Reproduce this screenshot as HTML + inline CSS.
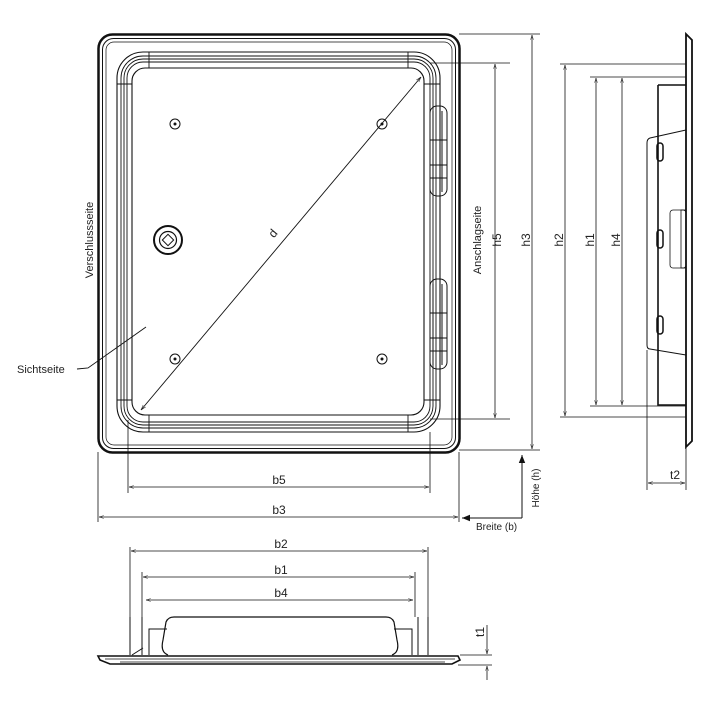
<!DOCTYPE html>
<html><head><meta charset="utf-8"><style>
html,body{margin:0;padding:0;background:#fff;width:728px;height:703px;overflow:hidden}
svg{display:block}
text{font-family:"Liberation Sans",sans-serif;fill:#222}
</style></head><body>
<svg width="728" height="703" viewBox="0 0 728 703" xmlns="http://www.w3.org/2000/svg">
<defs>
<marker id="a" viewBox="0 0 10 10" refX="10" refY="5" markerWidth="6" markerHeight="6" orient="auto-start-reverse"><path d="M0,2 L10,5 L0,8" fill="none" stroke="#222" stroke-width="1"/></marker>
<marker id="f" viewBox="0 0 10 10" refX="10" refY="5" markerWidth="8" markerHeight="8" orient="auto"><path d="M0,1 L10,5 L0,9 z" fill="#111"/></marker>
</defs>
<g fill="none" stroke="#111">
<rect x="98.5" y="34.5" width="361" height="418" rx="14" stroke-width="2.5"/>
<rect x="102.5" y="38.5" width="353" height="410" rx="11" stroke-width="1"/>
<rect x="106" y="42" width="346" height="403" rx="8" stroke-width="0.7"/>
<rect x="117" y="52" width="323" height="380" rx="26" stroke-width="1.1"/>
<rect x="121" y="56" width="315" height="372" rx="22" stroke-width="0.9"/>
<rect x="124" y="59" width="309" height="366" rx="19" stroke-width="0.9"/>
<rect x="127" y="62" width="303" height="360" rx="16" stroke-width="0.9"/>
<rect x="132" y="68" width="292" height="347" rx="13" stroke-width="1.1"/>
<path d="M149,52 V68 M408,52 V68 M149,415 V432 M408,415 V432 M117,84 H132 M117,400 H132 M424,84 H440 M424,400 H440" stroke-width="0.9"/>
<g stroke-width="1"><circle cx="175" cy="124" r="5"/><circle cx="382" cy="124" r="5"/><circle cx="175" cy="359" r="5"/><circle cx="382" cy="359" r="5"/></g>
<g fill="#111" stroke="none"><circle cx="175" cy="124" r="1.5"/><circle cx="382" cy="124" r="1.5"/><circle cx="175" cy="359" r="1.5"/><circle cx="382" cy="359" r="1.5"/></g>
<circle cx="168" cy="240" r="14" stroke-width="2"/>
<circle cx="168" cy="240" r="8.5" stroke-width="1.2"/>
<rect x="164" y="236" width="8" height="8" transform="rotate(45 168 240)" stroke-width="1"/>
<g stroke-width="1">
<rect x="430" y="106" width="17" height="90" rx="7"/><path d="M433,111 V192 M442,111 V192 M430,140 H447 M430,165 H447 M430,178 H447"/>
<rect x="430" y="279" width="17" height="90" rx="7"/><path d="M433,284 V365 M442,284 V365 M430,313 H447 M430,338 H447 M430,351 H447"/>
</g>
<path d="M141,410 L421,77" stroke-width="0.9" marker-start="url(#a)" marker-end="url(#a)"/>
<path d="M77,369 L88,368 L146,327" stroke-width="0.9"/>
<g stroke-width="0.8">
<path d="M430,63 H510 M430,419 H510 M459,34 H540 M459,450 H540"/>
<path d="M495,64 V418" marker-start="url(#a)" marker-end="url(#a)"/>
<path d="M532,35 V449" marker-start="url(#a)" marker-end="url(#a)"/>
<path d="M128,420 V493 M430,432 V493 M98,452 V522 M459,452 V522"/>
<path d="M129,487 H429" marker-start="url(#a)" marker-end="url(#a)"/>
<path d="M99,517 H458" marker-start="url(#a)" marker-end="url(#a)"/>
</g>
<path d="M522,518 V455" stroke-width="1" marker-end="url(#f)"/>
<path d="M522,518 H462" stroke-width="1" marker-end="url(#f)"/>
<path d="M686,34 L692,40 V441 L686,447 Z" stroke-width="1.8"/>
<path d="M658,85 H686 M658,85 V405 H686" stroke-width="1.6"/>
<path d="M686,130 L650,138 Q647,139 647,143 V345 Q647,349 650,349 L686,355" stroke-width="1"/>
<rect x="681" y="210" width="5" height="58" stroke-width="0.8"/>
<rect x="670" y="210" width="16" height="58" rx="3" stroke-width="0.8"/>
<rect x="657" y="143" width="6" height="18" rx="3" stroke-width="1.5"/>
<rect x="657" y="230" width="6" height="18" rx="3" stroke-width="1.5"/>
<rect x="657" y="316" width="6" height="18" rx="3" stroke-width="1.5"/>
<g stroke-width="0.8">
<path d="M560,64 H686 M560,417 H686 M590,77 H686 M590,406 H686"/>
<path d="M565,65 V416" marker-start="url(#a)" marker-end="url(#a)"/>
<path d="M596,78 V405" marker-start="url(#a)" marker-end="url(#a)"/>
<path d="M622,78 V405" marker-start="url(#a)" marker-end="url(#a)"/>
<path d="M647,350 V490 M686,447 V490"/>
<path d="M648,483 H685" marker-start="url(#a)" marker-end="url(#a)"/>
</g>
<path d="M98,656 H458 L460,660 L452,664 H110 L100,660 Z" stroke-width="1.6"/>
<path d="M105,659 H455 M120,662 H445" stroke-width="0.8"/>
<path d="M168,655 Q160,652 163,640 L166,622 Q168,617 174,617 H386 Q392,617 394,622 L397,640 Q400,652 392,655" stroke-width="1.2"/>
<path d="M149,655 V629 H167 M412,655 V629 H394 M142,655 V617 M418,655 V617 M130,655 V617 M428,655 V617" stroke-width="1"/>
<path d="M132,655 L143,648" stroke-width="1"/>
<g stroke-width="0.8">
<path d="M130,547 V617 M428,547 V617 M142,572 V617 M415,572 V617"/>
<path d="M131,551 H427" marker-start="url(#a)" marker-end="url(#a)"/>
<path d="M143,577 H414" marker-start="url(#a)" marker-end="url(#a)"/>
<path d="M146,600 H413" marker-start="url(#a)" marker-end="url(#a)"/>
<path d="M460,655 H492 M458,665 H492"/>
<path d="M487,625 V654" marker-end="url(#a)"/>
<path d="M487,680 V666" marker-end="url(#a)"/>
</g>
</g>
<g font-size="12">
<text x="279" y="484" text-anchor="middle">b5</text>
<text x="279" y="514" text-anchor="middle">b3</text>
<text x="281" y="548" text-anchor="middle">b2</text>
<text x="281" y="574" text-anchor="middle">b1</text>
<text x="281" y="597" text-anchor="middle">b4</text>
<text x="675" y="479" text-anchor="middle">t2</text>
<text x="17" y="373" font-size="11">Sichtseite</text>
<text x="476" y="530" font-size="10">Breite (b)</text>
<text transform="translate(93,240) rotate(-90)" text-anchor="middle" font-size="11">Verschlussseite</text>
<text transform="translate(481,240) rotate(-90)" text-anchor="middle" font-size="11">Anschlagseite</text>
<text transform="translate(501,240) rotate(-90)" text-anchor="middle">h5</text>
<text transform="translate(530,240) rotate(-90)" text-anchor="middle">h3</text>
<text transform="translate(563,240) rotate(-90)" text-anchor="middle">h2</text>
<text transform="translate(594,240) rotate(-90)" text-anchor="middle">h1</text>
<text transform="translate(620,240) rotate(-90)" text-anchor="middle">h4</text>
<text transform="translate(484,632) rotate(-90)" text-anchor="middle">t1</text>
<text transform="translate(539,488) rotate(-90)" text-anchor="middle" font-size="10">Höhe (h)</text>
<text transform="translate(276,236) rotate(-50)" text-anchor="middle">d</text>
</g>
</svg>
</body></html>
